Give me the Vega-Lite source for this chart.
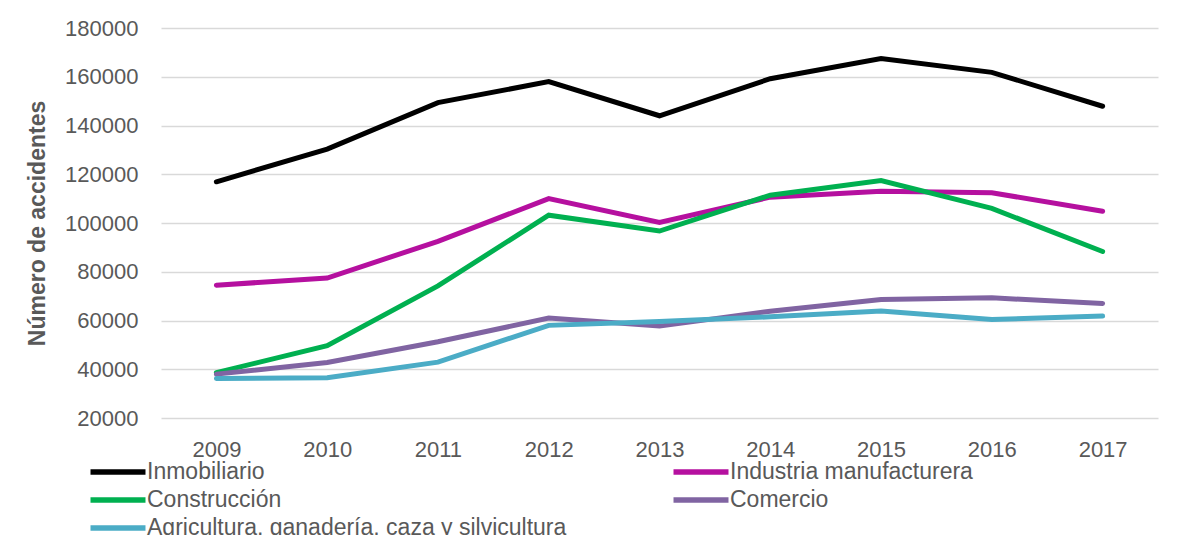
{
  "$schema": "https://vega.github.io/schema/vega-lite/v6.json",
  "width": 997,
  "height": 390,
  "autosize": {"type": "none"},
  "padding": {"left": 161, "top": 28, "right": 21, "bottom": 117},
  "background": "white",
  "title": {
    "text": "accidentes de trabajo calificados, Colombia 2009-2017",
    "anchor": "start",
    "frame": "group",
    "dx": -162,
    "offset": 12,
    "baseline": "alphabetic",
    "font": "Liberation Sans",
    "fontSize": 31.5,
    "fontWeight": "normal",
    "color": "#000000"
  },
  "config": {
    "view": {"stroke": null},
    "font": "Liberation Sans"
  },
  "data": {
    "values": [
      {"year": "2009", "sector": "Inmobiliario", "value": 116900},
      {"year": "2010", "sector": "Inmobiliario", "value": 130300},
      {"year": "2011", "sector": "Inmobiliario", "value": 149400},
      {"year": "2012", "sector": "Inmobiliario", "value": 158000},
      {"year": "2013", "sector": "Inmobiliario", "value": 144000},
      {"year": "2014", "sector": "Inmobiliario", "value": 159200},
      {"year": "2015", "sector": "Inmobiliario", "value": 167500},
      {"year": "2016", "sector": "Inmobiliario", "value": 161800},
      {"year": "2017", "sector": "Inmobiliario", "value": 147900},
      {"year": "2009", "sector": "Industria manufacturera", "value": 74500},
      {"year": "2010", "sector": "Industria manufacturera", "value": 77400},
      {"year": "2011", "sector": "Industria manufacturera", "value": 92500},
      {"year": "2012", "sector": "Industria manufacturera", "value": 110000},
      {"year": "2013", "sector": "Industria manufacturera", "value": 100200},
      {"year": "2014", "sector": "Industria manufacturera", "value": 110600},
      {"year": "2015", "sector": "Industria manufacturera", "value": 113000},
      {"year": "2016", "sector": "Industria manufacturera", "value": 112400},
      {"year": "2017", "sector": "Industria manufacturera", "value": 104800},
      {"year": "2009", "sector": "Construcción", "value": 38600},
      {"year": "2010", "sector": "Construcción", "value": 49700},
      {"year": "2011", "sector": "Construcción", "value": 74200},
      {"year": "2012", "sector": "Construcción", "value": 103200},
      {"year": "2013", "sector": "Construcción", "value": 96700},
      {"year": "2014", "sector": "Construcción", "value": 111400},
      {"year": "2015", "sector": "Construcción", "value": 117400},
      {"year": "2016", "sector": "Construcción", "value": 106000},
      {"year": "2017", "sector": "Construcción", "value": 88300},
      {"year": "2009", "sector": "Comercio", "value": 38000},
      {"year": "2010", "sector": "Comercio", "value": 42800},
      {"year": "2011", "sector": "Comercio", "value": 51300},
      {"year": "2012", "sector": "Comercio", "value": 61000},
      {"year": "2013", "sector": "Comercio", "value": 57700},
      {"year": "2014", "sector": "Comercio", "value": 63800},
      {"year": "2015", "sector": "Comercio", "value": 68600},
      {"year": "2016", "sector": "Comercio", "value": 69300},
      {"year": "2017", "sector": "Comercio", "value": 67000},
      {"year": "2009", "sector": "Agricultura, ganadería, caza y silvicultura", "value": 36200},
      {"year": "2010", "sector": "Agricultura, ganadería, caza y silvicultura", "value": 36500},
      {"year": "2011", "sector": "Agricultura, ganadería, caza y silvicultura", "value": 42900},
      {"year": "2012", "sector": "Agricultura, ganadería, caza y silvicultura", "value": 58000},
      {"year": "2013", "sector": "Agricultura, ganadería, caza y silvicultura", "value": 59600},
      {"year": "2014", "sector": "Agricultura, ganadería, caza y silvicultura", "value": 61500},
      {"year": "2015", "sector": "Agricultura, ganadería, caza y silvicultura", "value": 63900},
      {"year": "2016", "sector": "Agricultura, ganadería, caza y silvicultura", "value": 60400},
      {"year": "2017", "sector": "Agricultura, ganadería, caza y silvicultura", "value": 61800}
    ]
  },
  "mark": {"type": "line", "strokeWidth": 5, "strokeCap": "round", "strokeJoin": "miter"},
  "encoding": {
    "x": {
      "field": "year",
      "type": "ordinal",
      "scale": {"type": "point", "padding": 0.5},
      "axis": {
        "title": null,
        "labelAngle": 0,
        "ticks": false,
        "domain": false,
        "grid": false,
        "labelFontSize": 22,
        "labelColor": "#595959",
        "labelPadding": 21,
        "labelFont": "Liberation Sans"
      }
    },
    "y": {
      "field": "value",
      "type": "quantitative",
      "scale": {"domain": [20000, 180000], "nice": false, "zero": false},
      "axis": {
        "title": "Número de accidentes",
        "titleFontSize": 23,
        "titleFontWeight": "bold",
        "titleColor": "#595959",
        "titleFont": "Liberation Sans",
        "titlePadding": 15,
        "values": [20000, 40000, 60000, 80000, 100000, 120000, 140000, 160000, 180000],
        "format": "d",
        "ticks": false,
        "domain": false,
        "grid": true,
        "gridColor": "#D9D9D9",
        "gridWidth": 1.5,
        "labelFontSize": 22,
        "labelColor": "#595959",
        "labelPadding": 23,
        "labelFont": "Liberation Sans"
      }
    },
    "color": {
      "field": "sector",
      "type": "nominal",
      "scale": {
        "domain": ["Inmobiliario", "Industria manufacturera", "Construcción", "Comercio", "Agricultura, ganadería, caza y silvicultura"],
        "range": ["#000000", "#B5109F", "#00B050", "#8064A2", "#4BACC6"]
      },
      "legend": {
        "title": null,
        "orient": "none",
        "legendX": -59,
        "legendY": 428,
        "direction": "horizontal",
        "columns": 2,
        "columnPadding": 95,
        "rowPadding": 0,
        "symbolType": "M-2.115,0H2.115",
        "symbolSize": 676,
        "symbolStrokeWidth": 5.5,
        "labelFontSize": 23,
        "labelColor": "#595959",
        "labelFont": "Liberation Sans",
        "labelOffset": 13,
        "labelLimit": 600
      }
    }
  }
}
